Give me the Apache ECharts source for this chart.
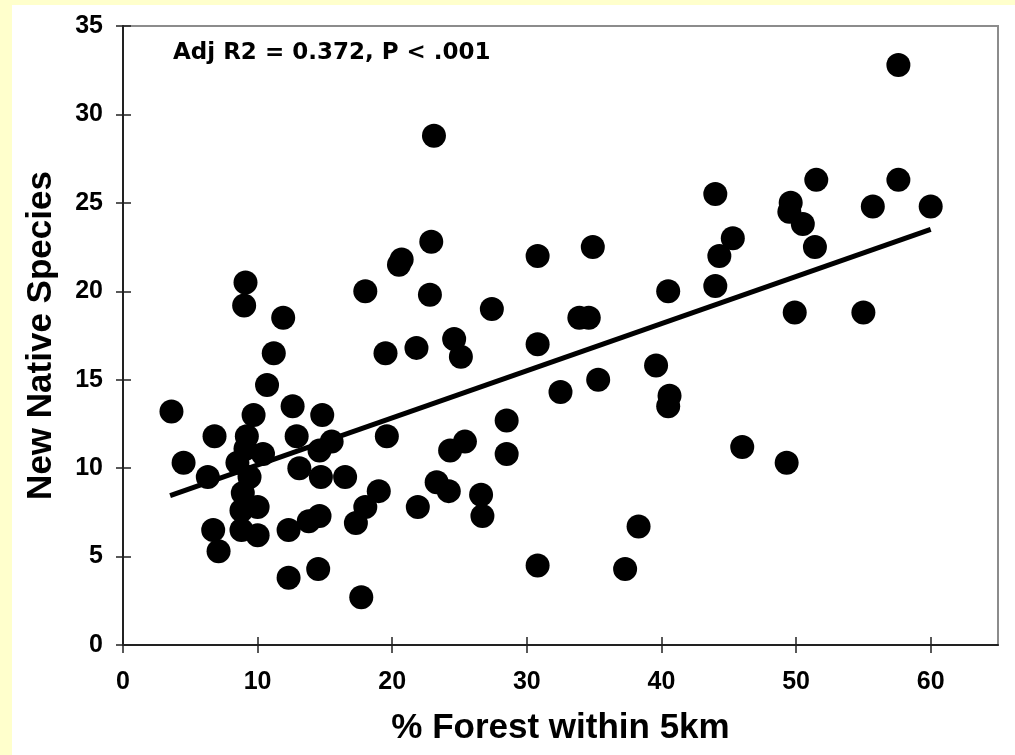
<!DOCTYPE html>
<html lang="en">
<head>
    <meta charset="UTF-8">
    <title>New Native Species vs Forest</title>
    <script src="https://cdn.jsdelivr.net/npm/echarts@6/dist/echarts.min.js"></script>
    <style>
        html, body { margin: 0; padding: 0; background: #ffffcc; }
        #panel { position: absolute; left: 12px; top: 5px; width: 1003px; height: 750px; background: #fff; }
        #main { position: absolute; left: 0; top: 0; width: 1015px; height: 755px; }
    </style>
</head>
<body>
<div id="panel"></div>
<div id="main"></div>
<script>
    // % forest within 5km (x) and new native species (y)
    var forest = [3.6, 4.5, 6.3, 6.8, 6.7, 7.1, 9.1, 9.0, 11.9, 11.2,
        10.7, 9.7, 9.2, 9.1, 10.4, 8.5, 9.4, 8.9, 10.0, 8.8,
        8.8, 10.0, 12.6, 14.8, 12.9, 15.5, 14.6, 13.1, 14.7, 16.5,
        12.3, 13.8, 14.6, 12.3, 14.5, 17.7, 17.3, 18.0, 19.0, 19.6,
        19.5, 18.0, 20.7, 20.5, 22.8, 22.9, 23.1, 21.8, 24.6, 25.1,
        27.4, 21.9, 23.3, 24.2, 24.3, 25.4, 26.6, 26.7, 28.5, 28.5,
        30.8, 30.8, 30.8, 32.5, 33.9, 34.6, 34.9, 35.3, 37.3, 38.3,
        39.6, 40.5, 40.6, 40.5, 44.0, 44.3, 44.0, 45.3, 46.0, 49.3,
        49.6, 49.5, 50.5, 51.4, 51.5, 49.9, 55.0, 55.7, 57.6, 57.6,
        60.0];
    var species = [13.2, 10.3, 9.5, 11.8, 6.5, 5.3, 20.5, 19.2, 18.5, 16.5,
        14.7, 13.0, 11.8, 11.1, 10.8, 10.3, 9.5, 8.6, 7.8, 7.6,
        6.5, 6.2, 13.5, 13.0, 11.8, 11.5, 11.0, 10.0, 9.5, 9.5,
        6.5, 7.0, 7.3, 3.8, 4.3, 2.7, 6.9, 7.8, 8.7, 11.8,
        16.5, 20.0, 21.8, 21.5, 19.8, 22.8, 28.8, 16.8, 17.3, 16.3,
        19.0, 7.8, 9.2, 8.7, 11.0, 11.5, 8.5, 7.3, 12.7, 10.8,
        22.0, 17.0, 4.5, 14.3, 18.5, 18.5, 22.5, 15.0, 4.3, 6.7,
        15.8, 20.0, 14.1, 13.5, 25.5, 22.0, 20.3, 23.0, 11.2, 10.3,
        25.0, 24.5, 23.8, 22.5, 26.3, 18.8, 18.8, 24.8, 26.3, 32.8,
        24.8];
    // fitted line end points
    var fitX = [3.5, 60];
    var fitY = [8.45, 23.5];
    var xTicks = [0, 10, 20, 30, 40, 50, 60];

    var points = [];
    for (var i = 0; i < forest.length; i++) {
        points.push([forest[i], species[i]]);
    }
    var fitLine = [[fitX[0], fitY[0]], [fitX[1], fitY[1]]];

    var tickFont = {color: '#000', fontSize: 25, fontWeight: 'bold', fontFamily: 'Liberation Sans'};
    var nameFont = {color: '#000', fontSize: 35, fontWeight: 'bold', fontFamily: 'Liberation Sans'};
    var tickLine = {color: '#222', width: 1.5};
    var gridBox = {left: 123, top: 26, right: 17, bottom: 110};

    var myChart = echarts.init(document.getElementById('main'));
    var option = {
        animation: false,
        grid: [
            Object.assign({show: true, backgroundColor: '#fff', borderColor: '#8c8c8c', borderWidth: 2}, gridBox),
            // same box again, only carries the inner half of the crossing ticks
            Object.assign({show: false}, gridBox)
        ],
        xAxis: [
            {
                type: 'value', min: 0, max: 65, interval: 10,
                name: '% Forest within 5km', nameLocation: 'middle', nameGap: 66,
                nameTextStyle: nameFont,
                axisLine: {show: true, lineStyle: {color: '#222', width: 2}},
                axisTick: {show: true, length: 8, customValues: xTicks, lineStyle: tickLine},
                axisLabel: Object.assign({margin: 25, customValues: xTicks}, tickFont),
                splitLine: {show: false}
            },
            {
                gridIndex: 1, type: 'value', min: 0, max: 65,
                axisLine: {show: false},
                axisTick: {show: true, inside: true, length: 8, customValues: xTicks, lineStyle: tickLine},
                axisLabel: {show: false},
                splitLine: {show: false}
            }
        ],
        yAxis: [
            {
                type: 'value', min: 0, max: 35, interval: 5,
                name: 'New Native Species', nameLocation: 'middle', nameGap: 64,
                nameTextStyle: nameFont,
                axisLine: {show: true, lineStyle: {color: '#222', width: 2}},
                axisTick: {show: true, length: 7, lineStyle: tickLine},
                axisLabel: Object.assign({margin: 20}, tickFont),
                splitLine: {show: false}
            },
            {
                gridIndex: 1, type: 'value', min: 0, max: 35, interval: 5,
                axisLine: {show: false},
                axisTick: {show: true, inside: true, length: 8, lineStyle: tickLine},
                axisLabel: {show: false},
                splitLine: {show: false}
            }
        ],
        graphic: [
            {
                type: 'text', left: 173, top: 42,
                style: {
                    text: 'Adj R2 = 0.372, P < .001',
                    fill: '#000', fontSize: 23, fontWeight: 'bold', fontFamily: 'DejaVu Sans'
                }
            }
        ],
        series: [
            {
                name: 'sites',
                type: 'scatter',
                symbol: 'circle',
                symbolSize: 24,
                itemStyle: {color: '#000', opacity: 1},
                data: points,
                z: 2
            },
            {
                name: 'fit',
                type: 'line',
                symbol: 'none',
                lineStyle: {color: '#000', width: 5},
                data: fitLine,
                z: 3
            }
        ]
    };
    myChart.setOption(option);
</script>
</body>
</html>
